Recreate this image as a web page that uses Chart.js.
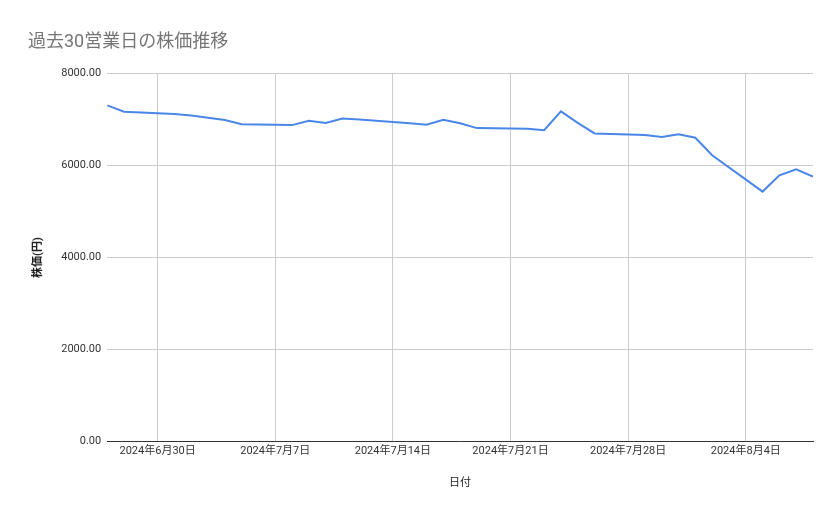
<!DOCTYPE html>
<html><head><meta charset="utf-8">
<script src="https://cdn.jsdelivr.net/npm/chart.js@4"></script>
<style>html,body{margin:0;background:#fff}#w{width:839px;height:519px}</style>
</head><body><div id="w"><canvas id="c"></canvas></div>
<script>
const dates = ["2024-06-27","2024-06-28","2024-07-01","2024-07-02","2024-07-03","2024-07-04","2024-07-05","2024-07-08","2024-07-09","2024-07-10","2024-07-11","2024-07-12","2024-07-15","2024-07-16","2024-07-17","2024-07-18","2024-07-19","2024-07-22","2024-07-23","2024-07-24","2024-07-25","2024-07-26","2024-07-29","2024-07-30","2024-07-31","2024-08-01","2024-08-02","2024-08-05","2024-08-06","2024-08-07","2024-08-08"];
const prices = [7310,7170,7120,7090,7040,6990,6900,6880,6975,6925,7025,7000,6920,6890,6995,6920,6815,6800,6770,7180,6930,6700,6665,6620,6680,6605,6225,5435,5790,5920,5760];
const tickDates = ["2024-06-30","2024-07-07","2024-07-14","2024-07-21","2024-07-28","2024-08-04"];
const yTicks = [0,2000,4000,6000,8000];
const base = Date.UTC(2024,5,30);
const day = s => (Date.parse(s+"T00:00:00Z")-base)/86400000;
const lab = d => { const t=new Date(base+d*86400000); return t.getUTCFullYear()+"年"+(t.getUTCMonth()+1)+"月"+t.getUTCDate()+"日"; };
const F = "'Roboto','Noto Sans CJK JP',sans-serif";
new Chart(document.getElementById('c'),{
 type:'line',
 data:{datasets:[{data:dates.map((d,i)=>({x:day(d),y:prices[i]})),borderColor:'#4a86e8',borderWidth:2,pointRadius:0,tension:0}]},
 options:{responsive:true,maintainAspectRatio:false,animation:false,
  layout:{padding:{left:28,right:26,top:8,bottom:25}},
  plugins:{legend:{display:false},tooltip:{enabled:false},
   title:{display:true,text:'過去30営業日の株価推移',align:'start',color:'#757575',font:{family:F,size:18,weight:'normal'},padding:{top:24,bottom:20}}},
  scales:{
   x:{type:'linear',min:day(dates[0]),max:day(dates[dates.length-1]),
    afterBuildTicks:a=>{a.ticks=tickDates.map(s=>({value:day(s)}));},
    ticks:{callback:v=>lab(v),color:'#333',font:{family:F,size:11},maxRotation:0,autoSkip:false},
    grid:{color:'#cccccc',drawTicks:false},border:{color:'#333'},
    title:{display:true,text:'日付',color:'#222',font:{family:F,size:11},padding:{top:16}}},
   y:{min:0,max:8000,afterBuildTicks:a=>{a.ticks=yTicks.map(v=>({value:v}));},
    ticks:{callback:v=>v.toFixed(2),color:'#333',font:{family:F,size:11},padding:6},
    grid:{color:'#cccccc',drawTicks:false},border:{display:false},
    title:{display:true,text:'株価(円)',color:'#222',font:{family:F,size:11,weight:'bold'},padding:{bottom:10}}}
  }}
});
</script></body></html>
